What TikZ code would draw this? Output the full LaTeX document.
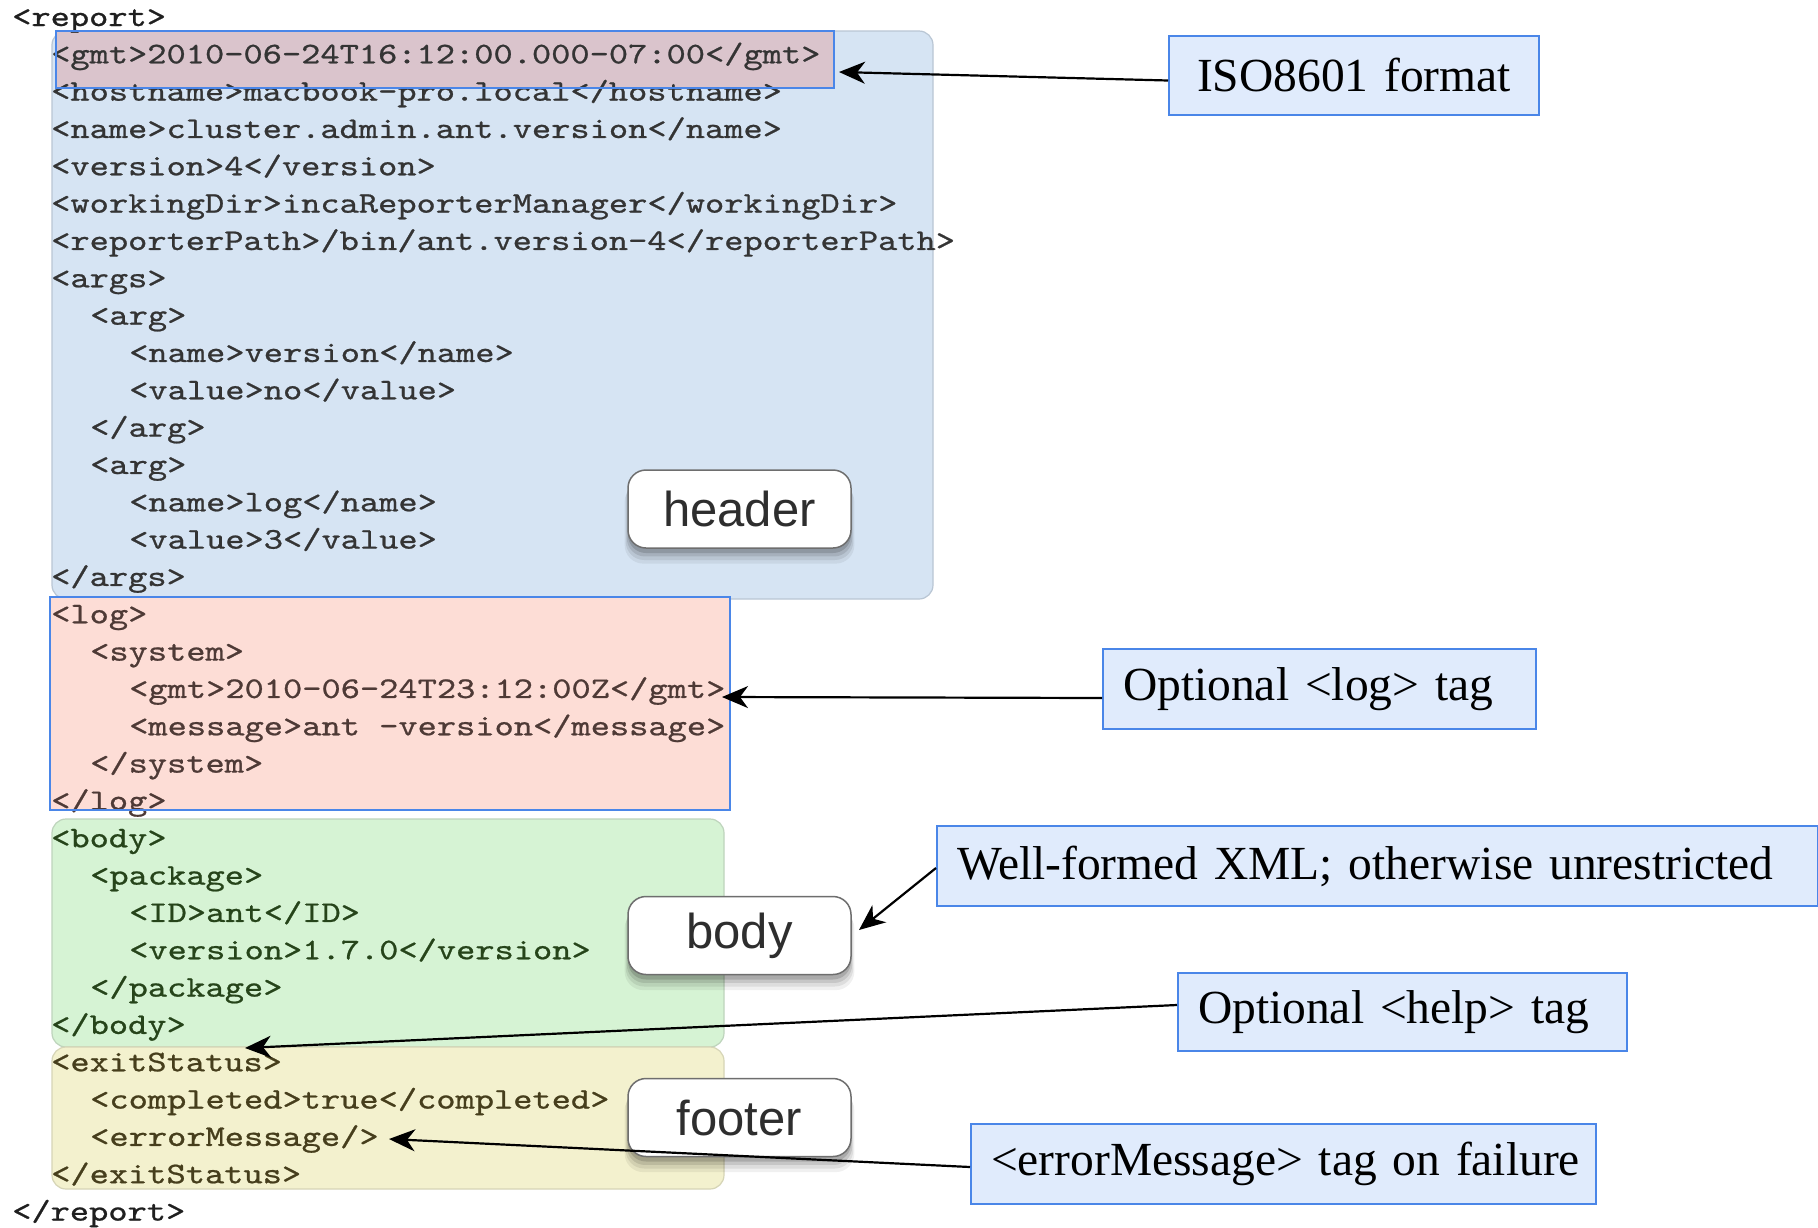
\documentclass[tikz,border=0pt]{standalone}
\usepackage{fontspec}
\usepackage{graphicx}
\setmainfont{Liberation Serif}
\newfontfamily\labfont{Liberation Sans}
\newfontfamily\xmlfont{lmmono10-regular.otf}[FakeBold=0.7]
\usetikzlibrary{arrows.meta,calc,shadows}
\definecolor{hdrfill}{RGB}{214,228,243}
\definecolor{hdrborder}{RGB}{185,198,212}
\definecolor{gmtfill}{RGB}{218,196,204}
\definecolor{hlblue}{RGB}{74,134,232}
\definecolor{logfill}{RGB}{253,221,214}
\definecolor{bodyfill}{RGB}{214,243,212}
\definecolor{bodyborder}{RGB}{190,212,188}
\definecolor{footfill}{RGB}{243,241,206}
\definecolor{footborder}{RGB}{214,213,182}
\definecolor{notefill}{RGB}{224,235,252}
\definecolor{hdrtext}{RGB}{52,52,52}
\definecolor{logtext}{RGB}{78,58,54}
\definecolor{bodytext}{RGB}{38,68,26}
\definecolor{foottext}{RGB}{70,62,28}
\definecolor{tagborder}{RGB}{110,110,110}
\newcommand\xmlline[4]{\node[xmltext,text=#3] (l#1) at ({12+39*#2},{26+37.33*#1}) {\scalebox{1.221}[1]{#4}};}
\begin{document}
\begin{tikzpicture}[x=1pt,y=-1pt,
  xmltext/.style={anchor=base west, inner sep=0pt, font=\xmlfont\fontsize{30}{36}\selectfont},
  region/.style={rounded corners=14pt, line width=1.2pt},
  hlbox/.style={draw=hlblue, line width=2pt},
  tagbox/.style={draw=tagborder, line width=1.5pt, fill=white, rounded corners=18pt,
    minimum width=223pt, minimum height=78pt, inner sep=0pt,
    font=\labfont\fontsize{49}{55}\selectfont, text=black!82,
    general shadow={fill=black, opacity=0.06, shadow yshift=-14pt, shadow scale=1.03},
    general shadow={fill=black, opacity=0.08, shadow yshift=-11pt, shadow scale=1.02},
    general shadow={fill=black, opacity=0.10, shadow yshift=-8pt, shadow scale=1.01},
    general shadow={fill=black, opacity=0.14, shadow yshift=-5pt}},
  note/.style={draw=hlblue, fill=notefill, line width=2pt, anchor=north west,
    inner ysep=0pt, inner xsep=20pt, align=left,
    font=\fontsize{47.5}{54}\selectfont},
  conn/.style={draw=black, line width=2.2pt, -{Stealth[length=26pt,width=22pt,inset=8pt]}},
]
\useasboundingbox (0,0) rectangle (1818,1227);
\fill[white] (0,0) rectangle (1818,1227);
% regions
\draw[region, fill=hdrfill, draw=hdrborder] (52,31) rectangle (933,599);
\fill[logfill] (50,597) rectangle (730,810);
\draw[region, fill=bodyfill, draw=bodyborder] (52,819) rectangle (724,1047);
\draw[region, fill=footfill, draw=footborder] (52,1047) rectangle (724,1189);
\fill[gmtfill] (56,31) rectangle (834,88);
% xml text
\xmlline{0}{0}{black!88}{<report>}
\xmlline{1}{1}{hdrtext}{<gmt>2010-06-24T16:12:00.000-07:00</gmt>}
\xmlline{2}{1}{hdrtext}{<hostname>macbook-pro.local</hostname>}
\xmlline{3}{1}{hdrtext}{<name>cluster.admin.ant.version</name>}
\xmlline{4}{1}{hdrtext}{<version>4</version>}
\xmlline{5}{1}{hdrtext}{<workingDir>incaReporterManager</workingDir>}
\xmlline{6}{1}{hdrtext}{<reporterPath>/bin/ant.version-4</reporterPath>}
\xmlline{7}{1}{hdrtext}{<args>}
\xmlline{8}{2}{hdrtext}{<arg>}
\xmlline{9}{3}{hdrtext}{<name>version</name>}
\xmlline{10}{3}{hdrtext}{<value>no</value>}
\xmlline{11}{2}{hdrtext}{</arg>}
\xmlline{12}{2}{hdrtext}{<arg>}
\xmlline{13}{3}{hdrtext}{<name>log</name>}
\xmlline{14}{3}{hdrtext}{<value>3</value>}
\xmlline{15}{1}{hdrtext}{</args>}
\xmlline{16}{1}{logtext}{<log>}
\xmlline{17}{2}{logtext}{<system>}
\xmlline{18}{3}{logtext}{<gmt>2010-06-24T23:12:00Z</gmt>}
\xmlline{19}{3}{logtext}{<message>ant -version</message>}
\xmlline{20}{2}{logtext}{</system>}
\xmlline{21}{1}{logtext}{</log>}
\xmlline{22}{1}{bodytext}{<body>}
\xmlline{23}{2}{bodytext}{<package>}
\xmlline{24}{3}{bodytext}{<ID>ant</ID>}
\xmlline{25}{3}{bodytext}{<version>1.7.0</version>}
\xmlline{26}{2}{bodytext}{</package>}
\xmlline{27}{1}{bodytext}{</body>}
\xmlline{28}{1}{foottext}{<exitStatus>}
\xmlline{29}{2}{foottext}{<completed>true</completed>}
\xmlline{30}{2}{foottext}{<errorMessage/>}
\xmlline{31}{1}{foottext}{</exitStatus>}
\xmlline{32}{0}{black!88}{</report>}
% highlight borders
\draw[hlbox] (56,31) rectangle (834,88);
\draw[hlbox] (50,597) rectangle (730,810);
% tag boxes
\node[tagbox] (hdr) at (739.5,509) {header};
\node[tagbox] (bdy) at (739.5,935.5) {body};
\node[tagbox] (ftr) at (739.5,1117.5) {footer};
% notes
\node[note, inner xsep=28pt, align=center, text width=314pt, minimum height=79pt] (iso) at (1168,35) {\mbox{ISO8601 format}};
\node[note, text width=393pt, minimum height=80pt] (optlog) at (1102,648) {\mbox{Optional <log> tag}};
\node[note, text width=841pt, minimum height=80pt] (wf) at (936,825) {\mbox{Well-formed XML; otherwise unrestricted}};
\node[note, text width=409pt, minimum height=78pt] (help) at (1177,972) {\mbox{Optional <help> tag}};
\node[note, text width=585pt, minimum height=80pt] (err) at (970,1123) {\mbox{<errorMessage> tag on failure}};
% arrow tips
\coordinate (tgmt) at (839,72);
\coordinate (tlog) at (722,697);
\coordinate (tbody) at (859,930);
\coordinate (thelp) at (245,1048);
\coordinate (terr) at (389,1139);
% connectors
\draw[conn] ($(iso.west)+(0,5)$) -- (tgmt);
\draw[conn] ($(optlog.west)+(0,9)$) -- (tlog);
\draw[conn] ($(wf.west)+(0,2)$) -- (tbody);
\draw[conn] ($(help.west)+(0,-7)$) -- (thelp);
\draw[conn] ($(err.west)+(0,3)$) -- (terr);
\end{tikzpicture}
\end{document}
